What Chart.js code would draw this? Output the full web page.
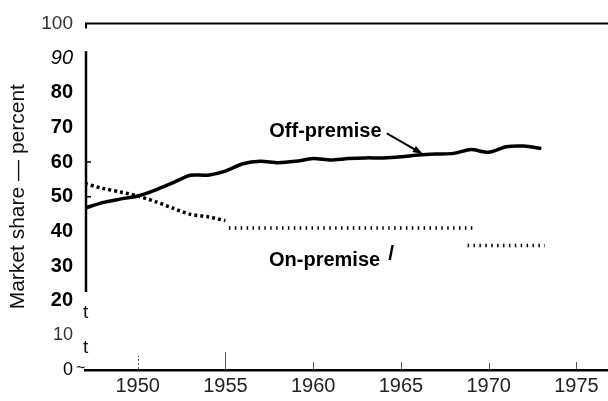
<!DOCTYPE html>
<html>
<head>
<meta charset="utf-8">
<script src="https://cdn.jsdelivr.net/npm/chart.js@4.4.1/dist/chart.umd.min.js"></script>
<style>
  html, body { margin: 0; padding: 0; background: #fff; }
  #wrap { width: 608px; height: 401px; }
</style>
</head>
<body>
<div id="wrap"><canvas id="chart" width="608" height="401"></canvas></div>
<script>
// Market share (percent) by year
const years = [1947, 1948, 1949, 1950, 1951, 1952, 1953, 1954, 1955, 1956, 1957, 1958, 1959, 1960,
               1961, 1962, 1963, 1964, 1965, 1966, 1967, 1968, 1969, 1970, 1971, 1972, 1973];
const offPremise = [46.7, 48.3, 49.3, 50.2, 51.9, 54.0, 56.2, 56.2, 57.4, 59.5, 60.2, 59.8, 60.2, 61.0,
                    60.6, 61.0, 61.2, 61.2, 61.5, 62.0, 62.3, 62.5, 63.6, 62.8, 64.4, 64.6, 63.9];

const onYears = [1947, 1948, 1949, 1950, 1951, 1952, 1953, 1954, 1955];
const onPremise = [53.8, 52.4, 51.4, 50.2, 48.6, 46.7, 44.9, 44.2, 43.1];

// later on-premise estimates (flat dotted runs)
const onFlatYears = [1955.2, 1969.2];
const onFlatValues = [41, 41];
const onLateYears = [1968.8, 1973.2];
const onLateValues = [35.9, 35.9];

const xTicks = [1950, 1955, 1960, 1965, 1970, 1975];
const yTicks = [0, 10, 20, 30, 40, 50, 60, 70, 80, 90, 100];
const yTickLabels = ['0', '10', '20', '30', '40', '50', '60', '70', '80', '90', '100'];

const FAMILY = '"Liberation Sans", Arial, sans-serif';

const pts = (xs, ys) => xs.map((x, i) => ({ x, y: ys[i] }));

function yTickFont(ctx) {
    const v = ctx.tick ? ctx.tick.value : 0;
    if (v === 100) return { family: FAMILY, size: 19 };
    if (v === 90) return { family: FAMILY, size: 20, style: 'italic' };
    if (v === 10 || v === 0) return { family: FAMILY, size: 18 };
    return { family: FAMILY, size: 20, weight: 'bold' };
}

const decorPlugin = {
    id: 'decor',
    afterDraw(chart) {
        const { ctx, chartArea: a, scales: { x, y } } = chart;
        ctx.save();
        ctx.strokeStyle = '#000';
        ctx.lineCap = 'butt';

        // top frame line
        ctx.lineWidth = 2;
        ctx.beginPath();
        ctx.moveTo(a.left, a.top); ctx.lineTo(a.right, a.top);
        ctx.moveTo(a.left + 1, a.top); ctx.lineTo(a.left + 1, a.top + 5);
        ctx.stroke();

        // broken left axis
        ctx.lineWidth = 2.5;
        ctx.beginPath();
        ctx.moveTo(a.left + 1, y.getPixelForValue(92));
        ctx.lineTo(a.left + 1, y.getPixelForValue(22.5));
        ctx.stroke();

        // inner ticks at 60 and 50
        ctx.lineWidth = 1.5;
        ctx.beginPath();
        [60, 50].forEach(v => {
            const py = y.getPixelForValue(v);
            ctx.moveTo(a.left, py); ctx.lineTo(a.left + 6, py);
        });
        ctx.stroke();

        // small x tick marks above the axis
        const markLen = [13, 17, 7, 7, 6, 7];
        ctx.strokeStyle = '#555';
        ctx.lineWidth = 1;
        xTicks.forEach((t, i) => {
            const px = Math.round(x.getPixelForValue(t)) + 0.5;
            ctx.setLineDash(i === 0 ? [2, 2] : []);
            ctx.beginPath();
            ctx.moveTo(px, a.bottom - 1); ctx.lineTo(px, a.bottom - 1 - markLen[i]);
            ctx.stroke();
        });
        ctx.setLineDash([]);

        // labels
        ctx.fillStyle = '#000';
        ctx.textAlign = 'center';
        ctx.textBaseline = 'middle';
        ctx.font = 'bold 20px ' + FAMILY;
        ctx.fillText('Off-premise', x.getPixelForValue(1960.7), y.getPixelForValue(68.8));
        ctx.fillText('On-premise', x.getPixelForValue(1960.65), y.getPixelForValue(31.7));
        ctx.font = 'bold 21px ' + FAMILY;
        ctx.fillText('/', x.getPixelForValue(1964.45), y.getPixelForValue(33.4));

        // arrow to the off-premise line
        const x0 = x.getPixelForValue(1964.2), y0 = y.getPixelForValue(68.3);
        const x1 = x.getPixelForValue(1966.25), y1 = y.getPixelForValue(62.3);
        const ang = Math.atan2(y1 - y0, x1 - x0);
        ctx.strokeStyle = '#000';
        ctx.lineWidth = 2;
        ctx.beginPath();
        ctx.moveTo(x0, y0);
        ctx.lineTo(x1 - 7 * Math.cos(ang), y1 - 7 * Math.sin(ang));
        ctx.stroke();
        ctx.beginPath();
        ctx.moveTo(x1, y1);
        ctx.lineTo(x1 - 10 * Math.cos(ang) + 3.5 * Math.sin(ang), y1 - 10 * Math.sin(ang) - 3.5 * Math.cos(ang));
        ctx.lineTo(x1 - 10 * Math.cos(ang) - 3.5 * Math.sin(ang), y1 - 10 * Math.sin(ang) + 3.5 * Math.cos(ang));
        ctx.closePath();
        ctx.fill();

        // stray marks near the axis
        ctx.font = '19px ' + FAMILY;
        ctx.textAlign = 'left';
        ctx.fillStyle = '#111';
        ctx.fillText('t', a.left - 2, y.getPixelForValue(16.4));
        ctx.fillText('t', a.left - 2, y.getPixelForValue(6.5));
        ctx.font = '16px ' + FAMILY;
        ctx.fillText('~', a.left - 9, y.getPixelForValue(0) - 1);
        ctx.restore();
    }
};

new Chart(document.getElementById('chart'), {
    type: 'line',
    data: {
        datasets: [
            { label: 'Off-premise', data: pts(years, offPremise), borderColor: '#000', borderWidth: 3.5, tension: 0.25, pointRadius: 0 },
            { label: 'On-premise', data: pts(onYears, onPremise), borderColor: '#000', borderWidth: 3.5, borderDash: [3, 3], tension: 0.25, pointRadius: 0 },
            { label: 'On-premise (est.)', data: pts(onFlatYears, onFlatValues), borderColor: '#000', borderWidth: 3.5, borderDash: [1.5, 4.4], pointRadius: 0 },
            { label: 'On-premise (late)', data: pts(onLateYears, onLateValues), borderColor: '#000', borderWidth: 3.5, borderDash: [1.5, 4.4], pointRadius: 0 }
        ]
    },
    options: {
        responsive: false,
        animation: false,
        layout: { padding: { top: 17, left: 0, right: 0, bottom: 0 } },
        plugins: { legend: { display: false }, tooltip: { enabled: false } },
        scales: {
            x: {
                type: 'linear', min: 1947, max: 1976.8,
                grid: { display: false, drawTicks: false },
                border: { display: true, color: '#000', width: 2.5 },
                ticks: { padding: 4, color: '#222', font: { family: FAMILY, size: 20 }, maxRotation: 0, autoSkip: false, callback: v => String(v) },
                afterBuildTicks: s => { s.ticks = xTicks.map(v => ({ value: v })); },
                afterFit: s => { s.height = 31; }
            },
            y: {
                min: 0, max: 100,
                grid: { display: false, drawTicks: false },
                border: { display: false },
                ticks: {
                    padding: 12,
                    color: ctx => (ctx.tick && (ctx.tick.value === 100 || ctx.tick.value === 10)) ? '#333' : '#000',
                    font: yTickFont,
                    callback: (v, i) => yTickLabels[i]
                },
                title: { display: true, text: 'Market share — percent', color: '#111', font: { family: FAMILY, size: 21 }, padding: { top: 6, bottom: 0 } },
                afterBuildTicks: s => { s.ticks = yTicks.map(v => ({ value: v })); },
                afterFit: s => { s.width = 85; }
            }
        }
    },
    plugins: [decorPlugin]
});
</script>
</body>
</html>
